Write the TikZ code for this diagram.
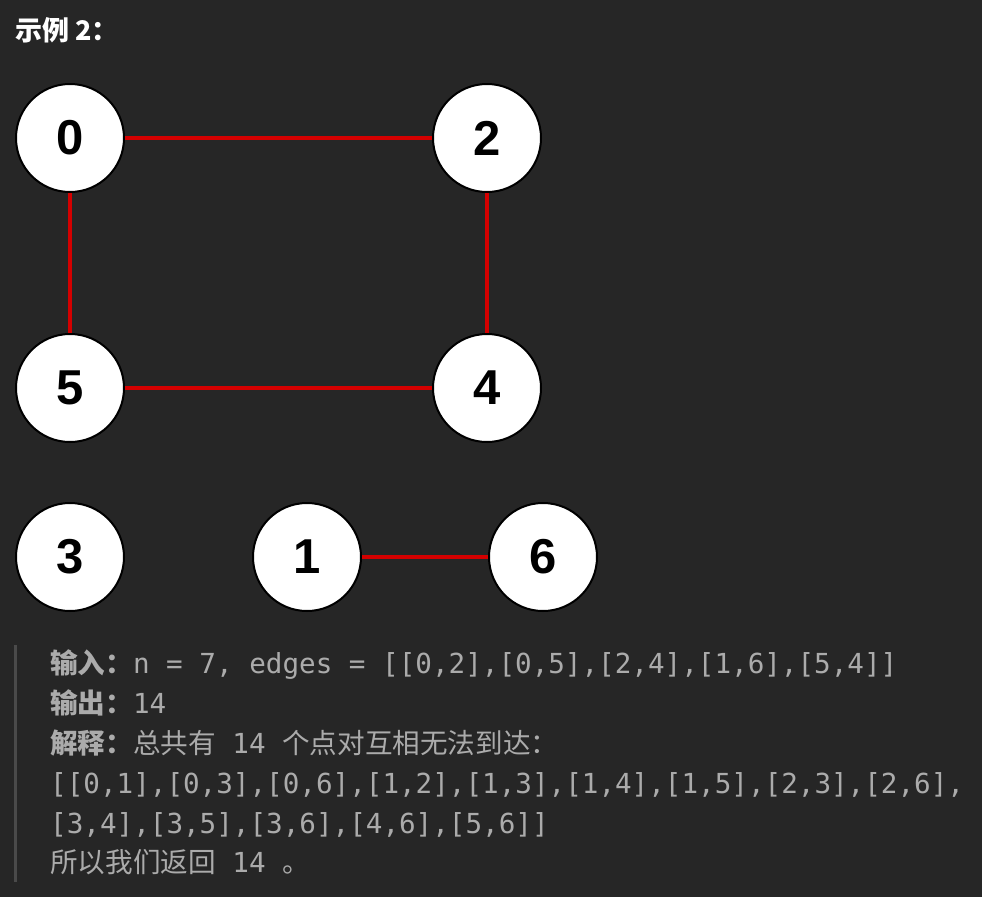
\documentclass[tikz,border=0pt]{standalone}
\usepackage{fontspec}
\setmainfont{Liberation Sans}
\setmonofont{DejaVu Sans Mono}
\newfontfamily\cjk{Noto Sans CJK SC}
\usepackage{xcolor}
\usetikzlibrary{positioning}

\definecolor{bgdark}{HTML}{262626}
\definecolor{edgered}{HTML}{D40000}
\definecolor{txtgray}{HTML}{ABABAB}
\definecolor{bargray}{HTML}{4A4A4A}
\newcommand{\zh}[1]{{\cjk #1}}
\newcommand{\zhb}[1]{{\cjk\bfseries #1}}

\begin{document}
\begin{tikzpicture}[
  x=1pt,y=-1pt,
  vtx/.style={circle,draw=black,line width=2pt,fill=white,minimum size=108pt,inner sep=0pt,
    font=\fontsize{49}{49}\selectfont\bfseries},
  link/.style={draw=edgered,line width=3.2pt},
  txt/.style={anchor=base west,inner sep=0pt,text=txtgray,font=\ttfamily\fontsize{27.6}{28}\selectfont}
]
\fill[bgdark] (0,0) rectangle (982,897);
\useasboundingbox (0,0) rectangle (982,897);

\node[anchor=base west,inner sep=0pt,text=white,font=\cjk\bfseries\fontsize{27}{27}\selectfont] (title) at (15,40) {示例 2：};

% graph
\node[vtx] (n0) at (70,138) {0};
\node[vtx] (n2) at (487,138) {2};
\node[vtx] (n5) at (70,388) {5};
\node[vtx] (n4) at (487,388) {4};
\node[vtx] (n3) at (70,557) {3};
\node[vtx] (n1) at (307,557) {1};
\node[vtx] (n6) at (543,557) {6};
\draw[link] (n0) -- (n2);
\draw[link] (n0) -- (n5);
\draw[link] (n2) -- (n4);
\draw[link] (n5) -- (n4);
\draw[link] (n1) -- (n6);

% example text
\draw[bargray,line width=3pt] (15,645) -- (15,882);
\node[txt] (l1) at (50,673) {\zhb{输入：}n = 7, edges = [[0,2],[0,5],[2,4],[1,6],[5,4]]};
\node[txt] (l2) at (50,713) {\zhb{输出：}14};
\node[txt] (l3) at (50,753) {\zhb{解释：}\zh{总共有} 14 \zh{个点对互相无法到达：}};
\node[txt] (l4) at (50,793) {[[0,1],[0,3],[0,6],[1,2],[1,3],[1,4],[1,5],[2,3],[2,6],};
\node[txt] (l5) at (50,833) {[3,4],[3,5],[3,6],[4,6],[5,6]]};
\node[txt] (l6) at (50,872) {\zh{所以我们返回} 14 \zh{。}};
\end{tikzpicture}
\end{document}
